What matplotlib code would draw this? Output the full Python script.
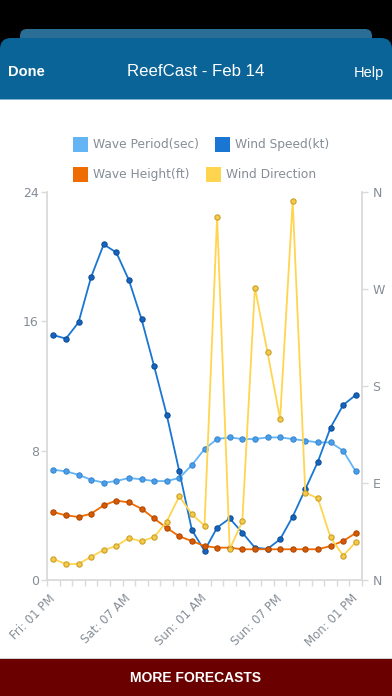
import matplotlib
matplotlib.use("Agg")
import matplotlib.pyplot as plt
from matplotlib.patches import FancyBboxPatch, Rectangle

# ---------------- data ----------------
categories = ["Fri: 01 PM", "Fri: 04 PM", "Fri: 07 PM", "Fri: 10 PM",
              "Sat: 01 AM", "Sat: 04 AM", "Sat: 07 AM", "Sat: 10 AM",
              "Sat: 01 PM", "Sat: 04 PM", "Sat: 07 PM", "Sat: 10 PM",
              "Sun: 01 AM", "Sun: 04 AM", "Sun: 07 AM", "Sun: 10 AM",
              "Sun: 01 PM", "Sun: 04 PM", "Sun: 07 PM", "Sun: 10 PM",
              "Mon: 01 AM", "Mon: 04 AM", "Mon: 07 AM", "Mon: 10 AM",
              "Mon: 01 PM"]
wave_period = [6.82, 6.72, 6.51, 6.2, 6.02, 6.12, 6.31, 6.23, 6.12, 6.12,
               6.31, 7.11, 8.1, 8.72, 8.82, 8.72, 8.72, 8.82, 8.82, 8.72,
               8.62, 8.51, 8.51, 8.0, 6.72]
wind_speed = [15.15, 14.93, 15.93, 18.74, 20.76, 20.26, 18.55, 16.14, 13.23,
              10.22, 6.72, 3.09, 1.81, 3.24, 3.81, 2.93, 2.0, 1.92, 2.52,
              3.92, 5.61, 7.32, 9.42, 10.82, 11.44]
wave_height = [4.2, 4.0, 3.9, 4.1, 4.62, 4.91, 4.8, 4.41, 3.81, 3.22, 2.7,
               2.41, 2.1, 2.0, 2.0, 1.9, 1.9, 1.9, 1.9, 1.9, 1.9, 1.9, 2.1,
               2.41, 2.9]
wind_direction = [19.5, 14.8, 14.8, 21.6, 27.8, 31.5, 39.0, 35.9, 39.9, 54.1,
                  77.7, 61.0, 50.4, 337.0, 28.5, 54.4, 271.2, 211.3, 149.4,
                  351.6, 81.0, 75.8, 39.6, 22.6, 35.0]
left_ticks = [0, 8, 16, 24]
dir_ticks = [0, 90, 180, 270, 360]
dir_labels = ["N", "E", "S", "W", "N"]
label_every = 6
legend_names = ["Wave Period(sec)", "Wind Speed(kt)", "Wave Height(ft)", "Wind Direction"]

# ---------------- style ----------------
C_PERIOD = "#64b5f6"
C_SPEED = "#1976d2"
C_HEIGHT = "#ef6c00"
C_DIR = "#ffd54f"
GRAY = "#868d96"
AXIS = "#dadada"

plt.rcParams["font.family"] = ["DejaVu Sans"]

W, H = 392, 696
fig = plt.figure(figsize=(W / 100, H / 100), dpi=100)
fig.patch.set_facecolor("white")

# background / chrome layer in pixel coordinates
bg = fig.add_axes([0, 0, 1, 1], zorder=0)
bg.set_xlim(0, W)
bg.set_ylim(H, 0)
bg.axis("off")
bg.add_patch(Rectangle((0, 0), W, 60, color="black", lw=0))
bg.add_patch(FancyBboxPatch((20, 29), 352, 40, boxstyle="round,pad=0,rounding_size=7",
                            color="#2a6e96", lw=0))
bg.add_patch(FancyBboxPatch((0, 38), W, 80, boxstyle="round,pad=0,rounding_size=11",
                            color="#0b6497", lw=0))
bg.add_patch(Rectangle((0, 99), W, H - 99, color="white", lw=0))
bg.add_patch(Rectangle((0, 98.5), W, 1.2, color="#7fb2d3", lw=0))
hdr_font = ["Liberation Sans", "DejaVu Sans"]
bg.text(8, 72.5, "Done", color="white", fontsize=10.5, fontweight="bold",
        ha="left", va="center", family=hdr_font)
bg.text(W / 2, 72, "ReefCast - Feb 14", color="white", fontsize=12.1,
        ha="center", va="center", family=hdr_font)
bg.text(384, 72.5, "Help", color="white", fontsize=10.5,
        ha="right", va="center", family=hdr_font)
# footer
bg.add_patch(Rectangle((0, 658), W, 1, color="#d0d0d0", lw=0))
bg.add_patch(Rectangle((0, 659), W, H - 659, color="#6b0000", lw=0))
bg.text(W / 2, 677.5, "MORE FORECASTS", color="white", fontsize=10, fontweight="bold",
        ha="center", va="center", family=hdr_font)

# legend
leg_items = [(73, 137, C_PERIOD, legend_names[0]), (215, 137, C_SPEED, legend_names[1]),
             (73, 167, C_HEIGHT, legend_names[2]), (206, 167, C_DIR, legend_names[3])]
for x, y, c, name in leg_items:
    bg.add_patch(Rectangle((x, y), 15, 15, color=c, lw=0))
    bg.text(x + 20, y + 7.5, name, color=GRAY, fontsize=8.8, ha="left", va="center")

# ---------------- chart ----------------
L, R, T, B = 47, 362, 192, 580
ax = fig.add_axes([L / W, 1 - B / H, (R - L) / W, (B - T) / H], zorder=1)
ax.patch.set_alpha(0)
x = list(range(len(categories)))

def draw(a, vals, line_c, face_c, edge_c):
    a.plot(x, vals, color=line_c, lw=1.3, marker="o", ms=3.8,
           mfc=face_c, mec=edge_c, mew=0.8, clip_on=False)

draw(ax, wave_period, C_PERIOD, "#4a9fe8", "#3a88d2")
draw(ax, wind_speed, C_SPEED, "#1565c0", "#0e4d98")
draw(ax, wave_height, C_HEIGHT, "#d85a05", "#b04800")

ax.set_xlim(-0.5, len(categories) - 0.5)
ax.set_ylim(0, 24)
ax.set_yticks(left_ticks)
ax.set_yticklabels([str(v) for v in left_ticks])
ax.set_xticks(x[::label_every])
ax.set_xticklabels(categories[::label_every], rotation=45, ha="right", va="center",
                   rotation_mode="anchor")
ax.set_xticks([i - 0.5 for i in range(len(categories) + 1)], minor=True)
ax.tick_params(axis="x", which="major", length=0, pad=12, labelsize=8.5, labelcolor=GRAY)
ax.tick_params(axis="x", which="minor", length=4, width=1, color=AXIS, direction="out")
ax.tick_params(axis="y", length=4.5, width=1, color=AXIS, pad=1.5, labelsize=9,
               labelcolor=GRAY)
for s in ["top", "right"]:
    ax.spines[s].set_visible(False)
for s in ["left", "bottom"]:
    ax.spines[s].set_color(AXIS)
    ax.spines[s].set_linewidth(1.3)

ax2 = ax.twinx()
ax2.patch.set_alpha(0)
ax2.plot(x, wind_direction, color=C_DIR, lw=1.3, marker="o", ms=3.8,
         mfc="#f7c948", mec="#c9a02a", mew=0.8, clip_on=False)
ax2.set_ylim(0, 360)
ax2.set_yticks(dir_ticks)
ax2.set_yticklabels(dir_labels)
ax2.tick_params(axis="y", length=4.5, width=1, color=AXIS, pad=3, labelsize=9,
                labelcolor=GRAY)
for s in ["top", "left", "bottom"]:
    ax2.spines[s].set_visible(False)
ax2.spines["right"].set_color(AXIS)
ax2.spines["right"].set_linewidth(1.3)

fig.savefig("out.png", dpi=100, facecolor=fig.get_facecolor())
